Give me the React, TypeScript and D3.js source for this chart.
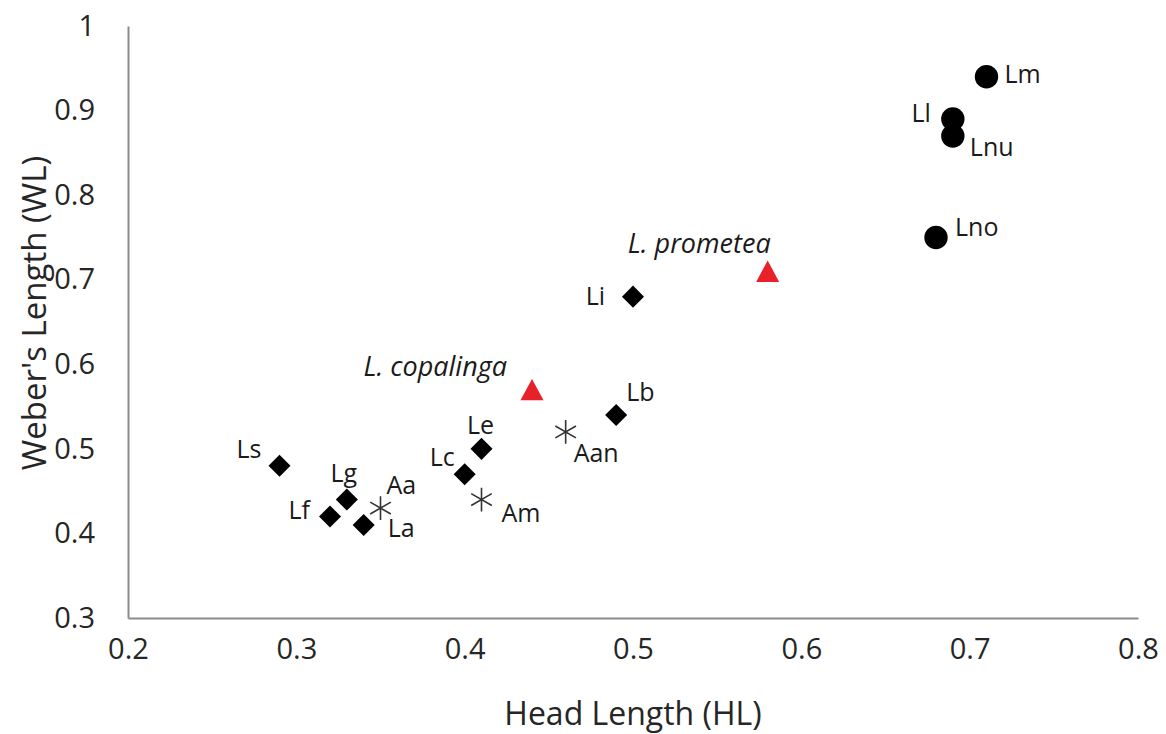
import { useEffect, useRef } from "react";
import * as d3 from "d3";

// species groups, values (HL, WL)
const circleNames = ["Lm", "Ll", "Lnu", "Lno"];
const circleHL = [0.71, 0.69, 0.69, 0.68];
const circleWL = [0.94, 0.89, 0.87, 0.75];

const triangleNames = ["L. prometea", "L. copalinga"];
const triangleHL = [0.58, 0.44];
const triangleWL = [0.71, 0.57];

const diamondNames = ["Li", "Lb", "Le", "Lc", "Ls", "Lg", "Lf", "La"];
const diamondHL = [0.5, 0.49, 0.41, 0.4, 0.29, 0.33, 0.32, 0.34];
const diamondWL = [0.68, 0.54, 0.5, 0.47, 0.48, 0.44, 0.42, 0.41];

const starNames = ["Aa", "Am", "Aan"];
const starHL = [0.35, 0.41, 0.46];
const starWL = [0.43, 0.44, 0.52];

const xTicks = [0.2, 0.3, 0.4, 0.5, 0.6, 0.7, 0.8];
const yTicks = [0.3, 0.4, 0.5, 0.6, 0.7, 0.8, 0.9, 1];

// where each data label sits relative to its marker
const labelPlace: Record<string, [string, number, number]> = {
  Lm: ["start", 18, -4],
  Ll: ["end", -22, -7],
  Lnu: ["start", 17, 10],
  Lno: ["start", 19, -11],
  "L. prometea": ["end", 3, -29],
  "L. copalinga": ["end", -25, -24],
  Li: ["end", -28, -2],
  Lb: ["start", 10, -24],
  Le: ["middle", -1, -25],
  Lc: ["end", -10, -18],
  Ls: ["end", -18, -18],
  Lg: ["middle", -3, -28],
  Lf: ["end", -20, -8],
  La: ["start", 24, 2],
  Aa: ["start", 6, -24],
  Am: ["start", 20, 12],
  Aan: ["start", 8, 20],
};

const width = 1166;
const height = 734;
const margin = { top: 26, right: 28, bottom: 116, left: 128 };
const font = "'Open Sans', 'Noto Sans', sans-serif";

// triangle centred on its bounding box like the spreadsheet marker
const boxTriangle = {
  draw(ctx: any, size: number) {
    const h = Math.sqrt(size) * 1.3;
    const w = h * 1.08;
    ctx.moveTo(0, -h / 2);
    ctx.lineTo(w / 2, h / 2);
    ctx.lineTo(-w / 2, h / 2);
    ctx.closePath();
  },
};

const App = () => {
  const svgRef = useRef(null);

  useEffect(() => {
    const svg = d3.select(svgRef.current);
    svg.selectAll("*").remove();

    const x = d3
      .scaleLinear()
      .domain([0.2, 0.8])
      .range([margin.left, width - margin.right]);
    const y = d3
      .scaleLinear()
      .domain([0.3, 1])
      .range([height - margin.bottom, margin.top]);

    // axes (no tick marks, just labels)
    const xAxis = d3
      .axisBottom(x)
      .tickValues(xTicks)
      .tickSize(0)
      .tickPadding(20)
      .tickFormat((d) => String(+d));
    const yAxis = d3
      .axisLeft(y)
      .tickValues(yTicks)
      .tickSize(0)
      .tickPadding(33)
      .tickFormat((d) => String(+d));

    const gx = svg
      .append("g")
      .attr("transform", `translate(0,${height - margin.bottom})`)
      .call(xAxis);
    const gy = svg
      .append("g")
      .attr("transform", `translate(${margin.left},0)`)
      .call(yAxis);

    [gx, gy].forEach((g) => {
      g.select(".domain").attr("stroke", "#8c8c8c").attr("stroke-width", 2);
      g.selectAll("text")
        .attr("font-family", font)
        .attr("font-size", 29)
        .attr("fill", "#262626");
    });
    gx.selectAll("text").attr("dy", "0.71em");

    // axis titles
    svg
      .append("text")
      .attr("x", (margin.left + width - margin.right) / 2)
      .attr("y", 725)
      .attr("text-anchor", "middle")
      .attr("font-family", font)
      .attr("font-size", 32)
      .attr("fill", "#262626")
      .text("Head Length (HL)");
    svg
      .append("text")
      .attr("transform", `translate(46,313) rotate(-90)`)
      .attr("text-anchor", "middle")
      .attr("font-family", font)
      .attr("font-size", 33)
      .attr("fill", "#262626")
      .text("Weber's Length (WL)");

    const groups = [
      { names: circleNames, hl: circleHL, wl: circleWL, type: d3.symbolCircle, size: 430, fill: "#000", stroke: "none", rotate: 0, italic: false },
      { names: diamondNames, hl: diamondHL, wl: diamondWL, type: d3.symbolSquare, size: 243, fill: "#000", stroke: "none", rotate: 45, italic: false },
      { names: starNames, hl: starHL, wl: starWL, type: d3.symbolAsterisk, size: 400, fill: "none", stroke: "#333", rotate: 0, italic: false },
      { names: triangleNames, hl: triangleHL, wl: triangleWL, type: boxTriangle, size: 270, fill: "#e8202a", stroke: "none", rotate: 0, italic: true },
    ];

    groups.forEach((grp) => {
      const pts = grp.names.map((n, i) => ({ name: n, hl: grp.hl[i], wl: grp.wl[i] }));
      const sym = d3.symbol().type(grp.type as any).size(grp.size);

      svg
        .append("g")
        .selectAll("path")
        .data(pts)
        .enter()
        .append("path")
        .attr("d", sym)
        .attr("transform", (d) => `translate(${x(d.hl)},${y(d.wl)}) rotate(${grp.rotate})`)
        .attr("fill", grp.fill)
        .attr("stroke", grp.stroke)
        .attr("stroke-width", 1.6);

      svg
        .append("g")
        .selectAll("text")
        .data(pts)
        .enter()
        .append("text")
        .attr("x", (d) => x(d.hl) + labelPlace[d.name][1])
        .attr("y", (d) => y(d.wl) + labelPlace[d.name][2])
        .attr("text-anchor", (d) => labelPlace[d.name][0])
        .attr("dominant-baseline", "central")
        .attr("font-family", font)
        .attr("font-size", grp.italic ? 27 : 25)
        .attr("font-style", grp.italic ? "italic" : "normal")
        .attr("fill", "#1a1a1a")
        .text((d) => d.name);
    });
  }, []);

  return (
    <svg
      ref={svgRef}
      width={width}
      height={height}
      style={{ position: "absolute", left: 0, top: 0, background: "#fff" }}
    />
  );
};

export default App;
